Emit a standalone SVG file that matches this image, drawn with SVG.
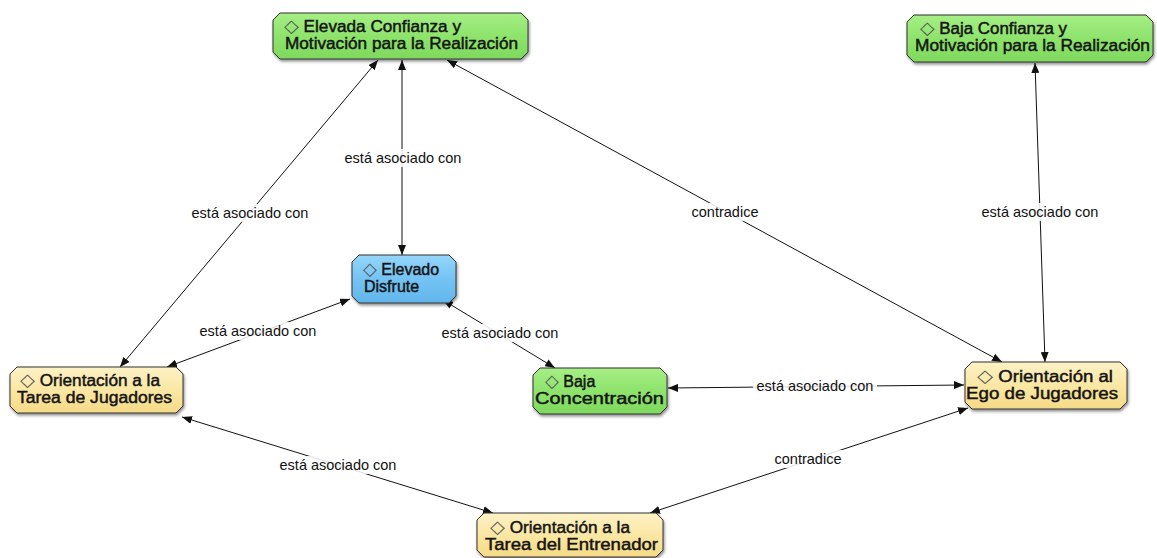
<svg xmlns="http://www.w3.org/2000/svg" width="1157" height="558" viewBox="0 0 1157 558">
  <defs>
    <linearGradient id="gGreen" x1="0" y1="0" x2="0" y2="1">
      <stop offset="0" stop-color="#a6ef85"/>
      <stop offset="0.5" stop-color="#8ee36c"/>
      <stop offset="1" stop-color="#7fd95e"/>
    </linearGradient>
    <linearGradient id="gBlue" x1="0" y1="0" x2="0" y2="1">
      <stop offset="0" stop-color="#95d6fb"/>
      <stop offset="0.5" stop-color="#74c3f3"/>
      <stop offset="1" stop-color="#62b6ec"/>
    </linearGradient>
    <linearGradient id="gYellow" x1="0" y1="0" x2="0" y2="1">
      <stop offset="0" stop-color="#fdf2c6"/>
      <stop offset="0.5" stop-color="#fbe7a4"/>
      <stop offset="1" stop-color="#f5da86"/>
    </linearGradient>
    <filter id="shadow" x="-10%" y="-20%" width="120%" height="150%">
      <feGaussianBlur in="SourceAlpha" stdDeviation="1.5"/>
      <feOffset dx="1" dy="2" result="b"/>
      <feComponentTransfer><feFuncA type="linear" slope="0.45"/></feComponentTransfer>
      <feMerge><feMergeNode/><feMergeNode in="SourceGraphic"/></feMerge>
    </filter>
    <marker id="arrow" viewBox="0 0 10 8" refX="10" refY="4" markerWidth="10" markerHeight="8" markerUnits="userSpaceOnUse" orient="auto-start-reverse">
      <path d="M0,0 L10,4 L0,8 Z" fill="#111"/>
    </marker>
  </defs>
  <style>
    .node path { stroke: #333; stroke-width: 1; filter: url(#shadow); }
    .green { fill: url(#gGreen); }
    .blue { fill: url(#gBlue); }
    .yellow { fill: url(#gYellow); }
    .node text { font-family: "Liberation Sans", "DejaVu Sans", sans-serif; font-size: 16px; fill: #141414; stroke: #141414; stroke-width: 0.45; }
    .dia { font-family: "DejaVu Sans", sans-serif; fill: #555; stroke: none; font-size: 18px; }
    .edge { stroke: #111; stroke-width: 1; fill: none; marker-start: url(#arrow); marker-end: url(#arrow); }
    .lbl rect { fill: #fff; fill-opacity: 0.85; }
    .lbl text { font-family: "Liberation Sans", sans-serif; font-size: 14.5px; fill: #111; text-anchor: middle; }
  </style>
  <rect width="1157" height="558" fill="#fff"/>

  <!-- connectors -->
  <g id="connectors">
    <line class="edge" x1="378" y1="60" x2="120" y2="367"/>
    <line class="edge" x1="402" y1="60" x2="402" y2="255"/>
    <line class="edge" x1="447" y1="60" x2="1002" y2="362"/>
    <line class="edge" x1="1035" y1="63" x2="1045" y2="362"/>
    <line class="edge" x1="350" y1="299" x2="167" y2="367"/>
    <line class="edge" x1="443" y1="300" x2="555" y2="368"/>
    <line class="edge" x1="668" y1="388" x2="964" y2="385"/>
    <line class="edge" x1="182" y1="417" x2="493" y2="513"/>
    <line class="edge" x1="968" y1="408" x2="650" y2="513"/>

    <g class="lbl">
      <rect x="188" y="204" width="124" height="18"/>
      <text x="250" y="218">está asociado con</text>
      <rect x="341" y="149" width="124" height="18"/>
      <text x="403" y="163">está asociado con</text>
      <rect x="689" y="203" width="72" height="18"/>
      <text x="725" y="217">contradice</text>
      <rect x="978" y="203" width="124" height="18"/>
      <text x="1040" y="217">está asociado con</text>
      <rect x="196" y="322" width="124" height="18"/>
      <text x="258" y="336">está asociado con</text>
      <rect x="438" y="324" width="124" height="18"/>
      <text x="500" y="338">está asociado con</text>
      <rect x="753" y="377" width="124" height="18"/>
      <text x="815" y="391">está asociado con</text>
      <rect x="276" y="456" width="124" height="18"/>
      <text x="338" y="470">está asociado con</text>
      <rect x="772" y="450" width="72" height="18"/>
      <text x="808" y="464">contradice</text>
    </g>
  </g>

  <!-- concepts -->
  <g id="elevada-confianza" class="node">
    <path class="green" d="M280,13 H521 L528,20 V52 L521,59 H280 L273,52 V20 Z"/>
    <text x="284" y="32" textLength="177" lengthAdjust="spacingAndGlyphs"><tspan class="dia">◇</tspan> Elevada Confianza y</text>
    <text x="285" y="48.5" textLength="233" lengthAdjust="spacingAndGlyphs">Motivación para la Realización</text>
  </g>
  <g id="baja-confianza" class="node">
    <path class="green" d="M914,15 H1146 L1153,22 V55 L1146,62 H914 L907,55 V22 Z"/>
    <text x="920" y="34" textLength="147" lengthAdjust="spacingAndGlyphs"><tspan class="dia">◇</tspan> Baja Confianza y</text>
    <text x="915" y="51" textLength="235" lengthAdjust="spacingAndGlyphs">Motivación para la Realización</text>
  </g>
  <g id="elevado-disfrute" class="node">
    <path class="blue" d="M359,255 H449 L456,262 V296 L449,303 H359 L352,296 V262 Z"/>
    <text x="363" y="275"><tspan class="dia">◇</tspan> Elevado</text>
    <text x="364" y="291.5">Disfrute</text>
  </g>
  <g id="tarea-jugadores" class="node">
    <path class="yellow" d="M17,367 H176 L183,374 V406 L176,413 H17 L10,406 V374 Z"/>
    <text x="20" y="386" textLength="140" lengthAdjust="spacingAndGlyphs"><tspan class="dia">◇</tspan> Orientación a la</text>
    <text x="17" y="402.5" textLength="155" lengthAdjust="spacingAndGlyphs">Tarea de Jugadores</text>
  </g>
  <g id="baja-concentracion" class="node">
    <path class="green" d="M540,368 H660 L667,375 V407 L660,414 H540 L533,407 V375 Z"/>
    <text x="545" y="387"><tspan class="dia">◇</tspan> Baja</text>
    <text x="535" y="403.5" textLength="129" lengthAdjust="spacingAndGlyphs">Concentración</text>
  </g>
  <g id="ego-jugadores" class="node">
    <path class="yellow" d="M972,362 H1120 L1127,369 V402 L1120,409 H972 L965,402 V369 Z"/>
    <text x="977" y="382" textLength="136" lengthAdjust="spacingAndGlyphs"><tspan class="dia">◇</tspan> Orientación al</text>
    <text x="966" y="398.5" textLength="152" lengthAdjust="spacingAndGlyphs">Ego de Jugadores</text>
  </g>
  <g id="tarea-entrenador" class="node">
    <path class="yellow" d="M484,513 H656 L663,520 V550 L656,557 H484 L477,550 V520 Z"/>
    <text x="490" y="533" textLength="140" lengthAdjust="spacingAndGlyphs"><tspan class="dia">◇</tspan> Orientación a la</text>
    <text x="485" y="550" textLength="173" lengthAdjust="spacingAndGlyphs">Tarea del Entrenador</text>
  </g>
</svg>
